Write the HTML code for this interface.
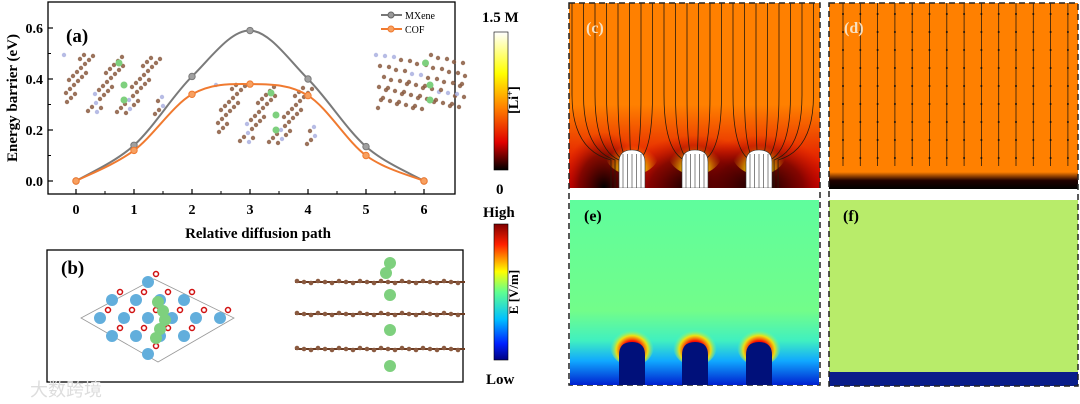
<!DOCTYPE html>
<html><head><meta charset="utf-8"><style>
html,body{margin:0;padding:0;background:#fff;}
body{width:1080px;height:404px;overflow:hidden;position:relative;font-family:"Liberation Serif",serif;}
svg{position:absolute;left:0;top:0;}
</style></head><body>
<svg id="fig" width="1080" height="404" viewBox="0 0 1080 404">
<defs>
<linearGradient id="liBar" x1="0" y1="0" x2="0" y2="1">
<stop offset="0" stop-color="#ffffff"/><stop offset="0.3" stop-color="#ffff00"/><stop offset="0.55" stop-color="#ff8000"/><stop offset="0.8" stop-color="#e00000"/><stop offset="1" stop-color="#000000"/></linearGradient>
<linearGradient id="eBar" x1="0" y1="0" x2="0" y2="1">
<stop offset="0" stop-color="#800000"/><stop offset="0.15" stop-color="#ff2000"/><stop offset="0.35" stop-color="#ffff00"/><stop offset="0.5" stop-color="#60ff90"/><stop offset="0.7" stop-color="#00c0ff"/><stop offset="0.88" stop-color="#0020ff"/><stop offset="1" stop-color="#000080"/></linearGradient>
<linearGradient id="cBg" x1="0" y1="0" x2="0" y2="1">
<stop offset="0" stop-color="#ff8000"/><stop offset="0.55" stop-color="#ff8000"/><stop offset="0.8" stop-color="#e83000"/><stop offset="1" stop-color="#d00000"/></linearGradient>
<radialGradient id="cDark" cx="0.5" cy="1" r="0.6"><stop offset="0" stop-color="#000"/><stop offset="0.6" stop-color="#600000" stop-opacity="0.7"/><stop offset="1" stop-color="#c00000" stop-opacity="0"/></radialGradient>
<radialGradient id="cHot" cx="0.5" cy="0.9" r="0.5"><stop offset="0" stop-color="#ffff80"/><stop offset="0.5" stop-color="#ffd000" stop-opacity="0.7"/><stop offset="1" stop-color="#ff8000" stop-opacity="0"/></radialGradient>
<linearGradient id="eBg" x1="0" y1="0" x2="0" y2="1">
<stop offset="0" stop-color="#5ffd9d"/><stop offset="0.6" stop-color="#72fd8a"/><stop offset="0.76" stop-color="#40f0c0"/><stop offset="0.87" stop-color="#10a8ff"/><stop offset="1" stop-color="#0020d0"/></linearGradient>
<radialGradient id="eHot" cx="0.5" cy="0.6" r="0.5"><stop offset="0" stop-color="#700000"/><stop offset="0.45" stop-color="#ff1000"/><stop offset="0.72" stop-color="#ffe000" stop-opacity="0.9"/><stop offset="1" stop-color="#70ff90" stop-opacity="0"/></radialGradient>
<linearGradient id="dBand" x1="0" y1="0" x2="0" y2="1"><stop offset="0" stop-color="#ff8000"/><stop offset="0.5" stop-color="#200000"/><stop offset="1" stop-color="#000"/></linearGradient>
</defs>

<g id="panelA">
<rect x="48" y="2" width="407" height="192" fill="none" stroke="#000" stroke-width="1.3"/>
<g id="axes"></g>
<g id="molA"></g>
<g id="series"></g>
<text x="66" y="42" font-size="19" font-weight="bold">(a)</text>
<g>
<line x1="381" y1="15" x2="402" y2="15" stroke="#777" stroke-width="2"/><circle cx="391" cy="15" r="3" fill="#999" stroke="#666"/>
<text x="405" y="19" font-size="10">MXene</text>
<line x1="381" y1="29" x2="402" y2="29" stroke="#f07a30" stroke-width="2"/><circle cx="391" cy="29" r="3" fill="#f7a060" stroke="#f07a30"/>
<text x="405" y="33" font-size="10">COF</text>
</g>
<text x="258" y="238" font-size="15" font-weight="bold" text-anchor="middle">Relative diffusion path</text>
<text transform="translate(17,98) rotate(-90)" font-size="15" font-weight="bold" text-anchor="middle">Energy barrier (eV)</text>
</g>

<g>
<rect x="47" y="250" width="416" height="132" fill="none" stroke="#000" stroke-width="1.3"/>
<text x="61" y="274" font-size="19" font-weight="bold">(b)</text>
<polygon points="81,318 154,279 234,318 158,362" fill="none" stroke="#999" stroke-width="0.8"/>
<g id="mx"></g>
<g id="cofSide"></g>
</g>
<text x="30" y="396" font-size="18" fill="#ddd" font-family="Liberation Sans, Noto Sans CJK SC, sans-serif">大数跨境</text>

<g>
<text x="482" y="22" font-size="15" font-weight="bold">1.5 M</text>
<rect x="494" y="32" width="14" height="138" fill="url(#liBar)" stroke="#000" stroke-width="0.6"/>
<text transform="translate(518,100) rotate(-90)" font-size="14" font-weight="bold" text-anchor="middle">[Li<tspan baseline-shift="super" font-size="9">+</tspan>]</text>
<text x="496" y="194" font-size="15" font-weight="bold">0</text>
</g>
<g>
<text x="483" y="217" font-size="15" font-weight="bold">High</text>
<rect x="494" y="224" width="14" height="136" fill="url(#eBar)" stroke="#000" stroke-width="0.6"/>
<text transform="translate(518,292) rotate(-90)" font-size="13" font-weight="bold" text-anchor="middle">E [V/m]</text>
<text x="486" y="384" font-size="15" font-weight="bold">Low</text>
</g>

<g id="panelC">
<rect x="569" y="3" width="251" height="185" fill="url(#cBg)"/>
<rect x="569" y="95" width="70" height="93" fill="url(#cDark)"/>
<rect x="632" y="100" width="126" height="88" fill="url(#cDark)"/>
<rect x="700" y="100" width="120" height="88" fill="url(#cDark)"/>
<g id="cLines"></g>
<text x="586" y="33" font-size="16" font-weight="bold" fill="#f8e0c0">(c)</text>
<rect x="569" y="188" width="251" height="12" fill="#fff"/>
<rect x="569" y="3" width="251" height="382" fill="none" stroke="#222" stroke-width="1.5" stroke-dasharray="6,4"/>
</g>
<g id="panelE">
<rect x="570" y="200" width="249" height="185" fill="url(#eBg)"/>
<g id="ePillars"></g>
<text x="584" y="221" font-size="16" font-weight="bold">(e)</text>
</g>
<g>
<rect x="829" y="3" width="249" height="170" fill="#ff8000"/>
<rect x="829" y="172" width="249" height="17" fill="url(#dBand)"/>
<g id="dLines"></g>
<text x="844" y="33" font-size="16" font-weight="bold" fill="#f8e0c0">(d)</text>
</g>
<g>
<rect x="829" y="200" width="249" height="172" fill="#b8ec6a"/>
<rect x="829" y="372" width="249" height="14" fill="#0a1e8a"/>
<text x="843" y="221" font-size="16" font-weight="bold">(f)</text>
<rect x="829" y="3" width="249" height="383" fill="none" stroke="#222" stroke-width="1.5" stroke-dasharray="6,4"/>
</g>
</svg>
<script>
var NS='http://www.w3.org/2000/svg';
var categories=[0,1,2,3,4,5,6];
var mxeneValues=[0,0.14,0.41,0.59,0.40,0.135,0];
var cofValues=[0,0.12,0.34,0.38,0.335,0.10,0];
var yTicks=[0.0,0.2,0.4,0.6];
var yTickLabels=['0.0','0.2','0.4','0.6'];
function xs(v){return 76+(v-0)*(424-76)/6;}
function ys(v){return 181-v*(181-28)/0.6;}
function mk(t,a,p){var e=document.createElementNS(NS,t);for(var k in a)e.setAttribute(k,a[k]);(p||document.getElementById('fig')).appendChild(e);return e;}
var ax=document.getElementById('axes');
categories.forEach(function(c){
 var t=mk('line',{x1:xs(c),x2:xs(c),y1:194,y2:189,stroke:'#000','stroke-width':1.2},ax);
 
 
 if(c<6){mk('line',{x1:xs(c+0.5),x2:xs(c+0.5),y1:194,y2:191,stroke:'#000'},ax);}
 var l=mk('text',{x:xs(c),y:214,'font-size':14,'font-weight':'bold','text-anchor':'middle'},ax);l.textContent=c;
 
 
});
yTicks.forEach(function(v,i){
 mk('line',{x1:48,x2:53,y1:ys(v),y2:ys(v),stroke:'#000','stroke-width':1.2},ax);
 if(i<3)mk('line',{x1:48,x2:51,y1:ys(v+0.1),y2:ys(v+0.1),stroke:'#000'},ax);
 var l=mk('text',{x:43,y:ys(v)+5,'font-size':14,'font-weight':'bold','text-anchor':'end'},ax);l.textContent=yTickLabels[i];
 
 
});
var mg=document.getElementById('molA');
[[64,55,100,60],[216,85,100,60],[376,55,90,55]].forEach(function(b){
 for(var i=0;i<70;i++){var px=b[0]+((i*37)%b[2]);var py=b[1]+((i*53)%b[3]);
 mk('circle',{cx:px,cy:py,r:2.2,fill:(i%9==0?'#aab0e0':'#8a5a40'),opacity:0.85},mg);}
 mk('circle',{cx:b[0]+b[2]*0.55,cy:b[1]+8,r:3.5,fill:'#7ed07e'},mg);
 mk('circle',{cx:b[0]+b[2]*0.6,cy:b[1]+30,r:3.5,fill:'#7ed07e'},mg);
 mk('circle',{cx:b[0]+b[2]*0.6,cy:b[1]+45,r:3.5,fill:'#7ed07e'},mg);
});
function smooth(vals){
 var pts=categories.map(function(c,i){return [xs(c),ys(vals[i])];});
 var d='M'+pts[0][0]+','+pts[0][1];
 for(var i=0;i<pts.length-1;i++){
  var p0=pts[Math.max(i-1,0)],p1=pts[i],p2=pts[i+1],p3=pts[Math.min(i+2,pts.length-1)];
  var c1=[p1[0]+(p2[0]-p0[0])/6,p1[1]+(p2[1]-p0[1])/6],c2=[p2[0]-(p3[0]-p1[0])/6,p2[1]-(p3[1]-p1[1])/6];
  d+=' C'+c1+' '+c2+' '+p2;
 }
 return d;
}
var sg=document.getElementById('series');
[[mxeneValues,'#7a7a7a','#a0a0a0','mxene'],[cofValues,'#f07a30','#f7a060','cof']].forEach(function(s){
 var p=mk('path',{d:smooth(s[0]),fill:'none',stroke:s[1],'stroke-width':2},sg);
 
 
 s[0].forEach(function(v,i){
  var c=mk('circle',{cx:xs(categories[i]),cy:ys(v),r:3.2,fill:s[2],stroke:s[1]},sg);
  
  
 });
});
var mx=document.getElementById('mx');
for(var r=0;r<5;r++)for(var k=0;k<6;k++){var cx=100+k*24+(r%2)*12,cy=282+r*18;
 if(Math.abs(cx-158)/80+Math.abs(cy-318)/40>1.05)continue;
 mk('circle',{cx:cx,cy:cy,r:6,fill:'#62aedc'},mx);
 mk('circle',{cx:cx+8,cy:cy-8,r:2.5,fill:'#fff',stroke:'#d01010','stroke-width':1.5},mx);}
[[158,302],[163,311],[165,320],[160,329],[156,338]].forEach(function(p){mk('circle',{cx:p[0],cy:p[1],r:6,fill:'#7ed07e'},mx);});
var cs=document.getElementById('cofSide');
[282,314,349].forEach(function(y){
 mk('line',{x1:295,x2:465,y1:y,y2:y,stroke:'#6b3a20','stroke-width':2},cs);
 for(var x=297;x<465;x+=7)mk('circle',{cx:x,cy:y+((x%3)-1),r:2.3,fill:'#8a5a40'},cs);
});
[[390,263],[386,273],[390,295],[390,330],[390,366]].forEach(function(p){mk('circle',{cx:p[0],cy:p[1],r:6,fill:'#7ed07e'},cs);});
var cl=document.getElementById('cLines');
var pillars=[632,695,759];
pillars.forEach(function(px){mk('ellipse',{cx:px,cy:150,rx:28,ry:25,fill:'url(#cHot)'},cl);});
for(var i=0;i<22;i++){var x0=572+i*11.5;var np=pillars.reduce(function(a,b){return Math.abs(b-x0)<Math.abs(a-x0)?b:a;});
 var tx=np+(x0-np)*0.35;
 mk('path',{d:'M'+x0+',3 L'+x0+',95 Q'+x0+',150 '+tx+',160 L'+tx+',188',fill:'none',stroke:'#2a1a0a','stroke-width':0.8},cl);}
pillars.forEach(function(px){
 mk('path',{d:'M'+(px-13)+',188 L'+(px-13)+',162 Q'+(px-13)+',150 '+px+',150 Q'+(px+13)+',150 '+(px+13)+',162 L'+(px+13)+',188 Z',fill:'#fff',stroke:'#333','stroke-width':0.6},cl);
 for(var j=-2;j<=2;j++)mk('line',{x1:px+j*4.5,x2:px+j*4.5,y1:154,y2:188,stroke:'#333','stroke-width':0.6},cl);
});
var ep=document.getElementById('ePillars');
pillars.forEach(function(px){
 mk('ellipse',{cx:px,cy:346,rx:22,ry:20,fill:'url(#eHot)'},ep);
 mk('path',{d:'M'+(px-13)+',385 L'+(px-13)+',355 Q'+(px-13)+',342 '+px+',342 Q'+(px+13)+',342 '+(px+13)+',355 L'+(px+13)+',385 Z',fill:'#00107a'},ep);
});
var dl=document.getElementById('dLines');
for(var i=0;i<15;i++){var x=843+i*17.3;mk('line',{x1:x,x2:x,y1:3,y2:166,stroke:'#2a1a0a','stroke-width':0.8},dl);
 for(var y=14;y<166;y+=18)mk('circle',{cx:x,cy:y,r:1,fill:'#111'},dl);}
</script>
</body></html>
